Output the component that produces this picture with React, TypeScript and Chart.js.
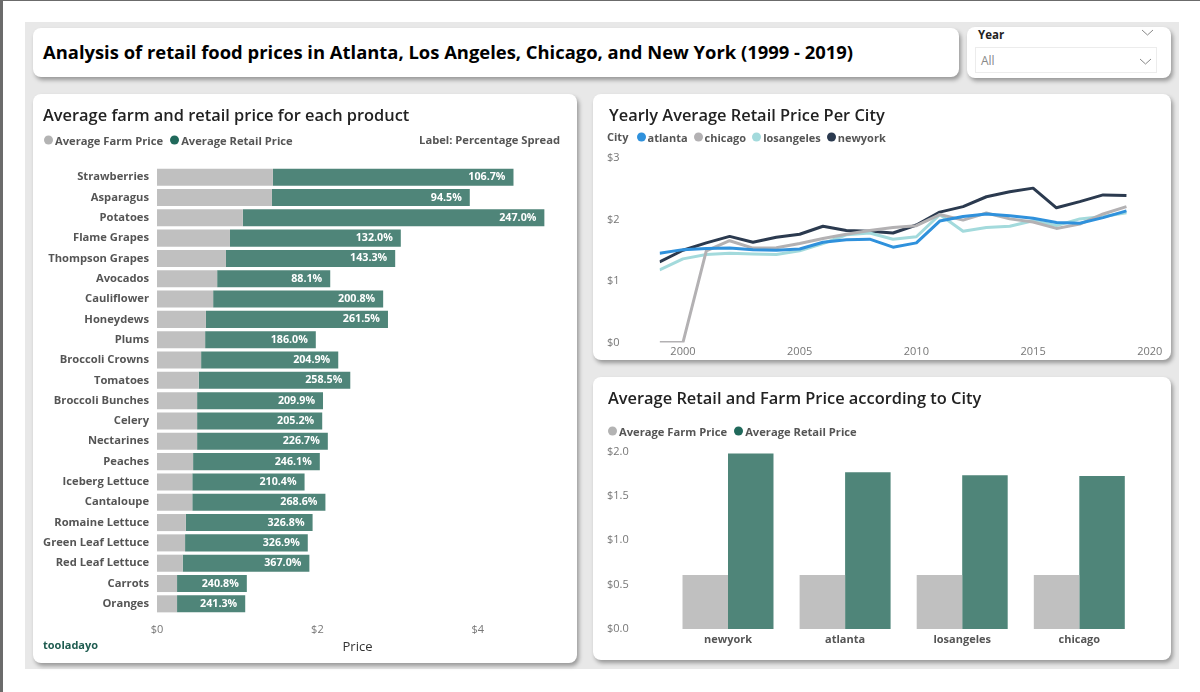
import React, { useEffect, useRef } from 'react';
import Chart from 'chart.js/auto';

const FONT = "'Open Sans', sans-serif";

const products = ['Strawberries', 'Asparagus', 'Potatoes', 'Flame Grapes', 'Thompson Grapes', 'Avocados', 'Cauliflower', 'Honeydews', 'Plums', 'Broccoli Crowns', 'Tomatoes', 'Broccoli Bunches', 'Celery', 'Nectarines', 'Peaches', 'Iceberg Lettuce', 'Cantaloupe', 'Romaine Lettuce', 'Green Leaf Lettuce', 'Red Leaf Lettuce', 'Carrots', 'Oranges'];
const productFarm = [1.445, 1.433, 1.07, 0.91, 0.86, 0.75, 0.7, 0.61, 0.6, 0.55, 0.52, 0.5, 0.5, 0.5, 0.45, 0.44, 0.44, 0.36, 0.35, 0.32, 0.25, 0.25];
const productRetail = [3.0, 2.467, 3.76, 2.13, 2.11, 1.41, 2.12, 2.27, 1.38, 1.71, 1.89, 1.57, 1.56, 1.63, 1.58, 1.4, 1.66, 1.58, 1.53, 1.58, 0.87, 0.85];
const productSpread = ['106.7%', '94.5%', '247.0%', '132.0%', '143.3%', '88.1%', '200.8%', '261.5%', '186.0%', '204.9%', '258.5%', '209.9%', '205.2%', '226.7%', '246.1%', '210.4%', '268.6%', '326.8%', '326.9%', '367.0%', '240.8%', '241.3%'];
const priceTicks = [0, 2, 4];

const years = [1999, 2000, 2001, 2002, 2003, 2004, 2005, 2006, 2007, 2008, 2009, 2010, 2011, 2012, 2013, 2014, 2015, 2016, 2017, 2018, 2019];
const atlanta = [1.45, 1.51, 1.53, 1.535, 1.51, 1.5, 1.52, 1.63, 1.67, 1.68, 1.55, 1.62, 1.975, 2.05, 2.09, 2.06, 2.02, 1.95, 1.94, 2.03, 2.14];
const chicago = [0, 0, 1.49, 1.655, 1.535, 1.54, 1.61, 1.69, 1.76, 1.82, 1.87, 1.9, 2.08, 1.99, 2.105, 2.01, 1.96, 1.855, 1.925, 2.09, 2.21];
const losangeles = [1.18, 1.36, 1.43, 1.45, 1.44, 1.43, 1.49, 1.61, 1.75, 1.78, 1.68, 1.72, 2.08, 1.81, 1.87, 1.89, 1.98, 1.9, 2.01, 2.05, 2.11];
const newyork = [1.31, 1.5, 1.62, 1.725, 1.63, 1.71, 1.76, 1.89, 1.82, 1.81, 1.78, 1.91, 2.12, 2.21, 2.37, 2.45, 2.51, 2.19, 2.29, 2.4, 2.39];
const yearTicks = [2000, 2005, 2010, 2015, 2020];

const cities = ['newyork', 'atlanta', 'losangeles', 'chicago'];
const cityFarm = [0.61, 0.61, 0.61, 0.61];
const cityRetail = [1.98, 1.768, 1.733, 1.726];

const FARM_BAR = '#c0c0c0';
const RETAIL_BAR = '#4f8579';
const FARM_DOT = '#b3b3b3';
const RETAIL_DOT = '#20695b';
const CITY_COLORS = { atlanta: '#2f91dc', chicago: '#b3b1b3', losangeles: '#a3dadc', newyork: '#2b3a4f' };

function useChart(config: any) {
    const ref = useRef<HTMLCanvasElement>(null);
    useEffect(() => {
        if (!ref.current) return;
        const chart = new Chart(ref.current, config);
        return () => chart.destroy();
    }, []);
    return ref;
}

const spreadLabels = {
    id: 'spreadLabels',
    afterDatasetsDraw(chart: any) {
        const { ctx } = chart;
        ctx.save();
        ctx.font = `700 10.7px ${FONT}`;
        ctx.fillStyle = '#ffffff';
        ctx.textAlign = 'right';
        ctx.textBaseline = 'middle';
        chart.getDatasetMeta(1).data.forEach((bar: any, i: number) => {
            ctx.fillText(productSpread[i], bar.x - 8, bar.y);
        });
        ctx.restore();
    },
};

function ProductChart() {
    const ref = useChart({
        type: 'bar',
        data: {
            labels: products,
            datasets: [
                { label: 'Average Farm Price', data: productFarm, backgroundColor: FARM_BAR },
                { label: 'Average Retail Price', data: productRetail, backgroundColor: RETAIL_BAR },
            ],
        },
        plugins: [spreadLabels],
        options: {
            indexAxis: 'y',
            responsive: false,
            animation: false,
            layout: { padding: { top: 73, right: 19, left: 0, bottom: 0 } },
            plugins: { legend: { display: false }, tooltip: { enabled: false } },
            datasets: { bar: { categoryPercentage: 1, barPercentage: 0.84 } },
            scales: {
                x: {
                    stacked: true,
                    min: 0,
                    max: 5,
                    afterBuildTicks: (axis: any) => { axis.ticks = priceTicks.map((value) => ({ value })); },
                    afterFit: (axis: any) => { axis.height = 49; },
                    grid: { display: false, drawTicks: false },
                    border: { display: false },
                    ticks: { padding: 9, maxRotation: 0, color: '#777777', font: { family: FONT, size: 11 }, callback: (v: any) => `$${v}` },
                    title: { display: true, text: 'Price', color: '#333333', font: { family: FONT, size: 13 }, padding: { top: 2, bottom: 8 } },
                },
                y: {
                    stacked: true,
                    afterFit: (axis: any) => { axis.width = 124; },
                    grid: { display: false, drawTicks: false },
                    border: { display: false },
                    ticks: { padding: 8, autoSkip: false, color: '#555555', font: { family: FONT, size: 11.2, weight: '700' } },
                },
            },
        },
    });
    return <canvas ref={ref} width={544} height={569} style={{ position: 'absolute', left: 33, top: 94 }} />;
}

function YearlyChart() {
    const series = { atlanta, chicago, losangeles, newyork };
    const ref = useChart({
        type: 'line',
        data: {
            datasets: Object.entries(series).map(([city, values]) => ({
                label: city,
                data: values.map((y, i) => ({ x: years[i], y })),
                borderColor: CITY_COLORS[city as keyof typeof CITY_COLORS],
                borderWidth: 3,
                pointRadius: 0,
                tension: 0,
                borderJoinStyle: 'round',
            })),
        },
        options: {
            responsive: false,
            animation: false,
            layout: { padding: { top: 64, right: 21.2, left: 14, bottom: 0 } },
            plugins: { legend: { display: false }, tooltip: { enabled: false } },
            scales: {
                x: {
                    type: 'linear',
                    min: 1999,
                    max: 2020,
                    afterBuildTicks: (axis: any) => { axis.ticks = yearTicks.map((value) => ({ value })); },
                    afterFit: (axis: any) => { axis.height = 17.5; },
                    grid: { display: false, drawTicks: false },
                    border: { display: false },
                    ticks: { padding: 3, maxRotation: 0, color: '#777777', font: { family: FONT, size: 11 }, callback: (v: any) => String(v) },
                },
                y: {
                    min: 0,
                    max: 3,
                    afterFit: (axis: any) => { axis.width = 52.6; },
                    grid: { display: false, drawTicks: false },
                    border: { display: false },
                    ticks: { stepSize: 1, crossAlign: 'far', color: '#777777', font: { family: FONT, size: 11 }, callback: (v: any) => `$${v}` },
                },
            },
        },
    });
    return <canvas ref={ref} width={578} height={266} style={{ position: 'absolute', left: 593, top: 94 }} />;
}

function CityChart() {
    const ref = useChart({
        type: 'bar',
        data: {
            labels: cities,
            datasets: [
                { label: 'Average Farm Price', data: cityFarm, backgroundColor: FARM_BAR },
                { label: 'Average Retail Price', data: cityRetail, backgroundColor: RETAIL_BAR },
            ],
        },
        options: {
            responsive: false,
            animation: false,
            layout: { padding: { top: 74.7, right: 33.15, left: 14, bottom: 0 } },
            plugins: { legend: { display: false }, tooltip: { enabled: false } },
            datasets: { bar: { categoryPercentage: 0.777, barPercentage: 1 } },
            scales: {
                x: {
                    afterFit: (axis: any) => { axis.height = 31; },
                    grid: { display: false, drawTicks: false },
                    border: { display: false },
                    ticks: { padding: 4, color: '#555555', font: { family: FONT, size: 11, weight: '700' } },
                },
                y: {
                    min: 0,
                    max: 2,
                    afterFit: (axis: any) => { axis.width = 62.45; },
                    grid: { display: false, drawTicks: false },
                    border: { display: false },
                    ticks: { stepSize: 0.5, crossAlign: 'far', color: '#777777', font: { family: FONT, size: 11 }, callback: (v: any) => `$${Number(v).toFixed(1)}` },
                },
            },
        },
    });
    return <canvas ref={ref} width={578} height={283} style={{ position: 'absolute', left: 593, top: 377 }} />;
}

function Card({ left, top, width, height }: { left: number; top: number; width: number; height: number }) {
    return <div style={{ position: 'absolute', left, top, width, height, background: '#fff', borderRadius: 8, boxShadow: '2px 3px 4px rgba(0,0,0,0.35)' }} />;
}

function Text({ left, top, right, size, weight, color, children }: any) {
    return (
        <div style={{ position: 'absolute', left, right, top, transform: 'translateY(-50%)', fontFamily: FONT, fontSize: size, fontWeight: weight, color, whiteSpace: 'nowrap', lineHeight: 1.2 }}>
            {children}
        </div>
    );
}

function LegendItems({ left, top, items, gap, size }: any) {
    return (
        <div style={{ position: 'absolute', left, top, transform: 'translateY(-50%)', display: 'flex', alignItems: 'center', fontFamily: FONT, fontSize: size, fontWeight: 700, color: '#555555', whiteSpace: 'nowrap' }}>
            {items.map(([label, color]: string[]) => (
                <span key={label} style={{ display: 'flex', alignItems: 'center', marginRight: gap }}>
                    <span style={{ width: 9, height: 9, borderRadius: '50%', background: color, marginRight: 2 }} />
                    {label}
                </span>
            ))}
        </div>
    );
}

function Chevron({ left, top }: { left: number; top: number }) {
    return (
        <svg width="13" height="7" style={{ position: 'absolute', left, top }}>
            <polyline points="1,1 6.5,6 12,1" fill="none" stroke="#888888" strokeWidth="1" />
        </svg>
    );
}

export default function App() {
    const priceLegend = [['Average Farm Price', FARM_DOT], ['Average Retail Price', RETAIL_DOT]];
    return (
        <div style={{ position: 'absolute', left: 0, top: 0, width: 1200, height: 692, overflow: 'hidden', background: '#fff' }}>
            <div style={{ position: 'absolute', left: 0, top: 0, width: 1200, height: 1, background: '#6b6b6b' }} />
            <div style={{ position: 'absolute', left: 0, top: 0, width: 3, height: 692, background: '#6b6b6b' }} />
            <div style={{ position: 'absolute', left: 25, top: 22, width: 1154, height: 647, background: '#e8e8e8' }} />

            <Card left={33} top={28} width={926} height={49} />
            <Card left={967} top={27} width={204} height={51} />
            <Card left={33} top={94} width={544} height={569} />
            <Card left={593} top={94} width={578} height={266} />
            <Card left={593} top={377} width={578} height={283} />

            <ProductChart />
            <YearlyChart />
            <CityChart />

            <Text left={43} top={52} size={18.4} weight={700} color="#000000">
                Analysis of retail food prices in Atlanta, Los Angeles, Chicago, and New York (1999 - 2019)
            </Text>

            <Text left={978} top={34.5} size={11.5} weight={700} color="#222222">Year</Text>
            <Chevron left={1141} top={29} />
            <div style={{ position: 'absolute', left: 975, top: 47, width: 180, height: 24, border: '1px solid #ececec' }} />
            <Text left={981} top={61} size={12} weight={400} color="#888888">All</Text>
            <Chevron left={1139} top={58} />

            <Text left={43} top={115} size={16.4} weight={600} color="#222222">Average farm and retail price for each product</Text>
            <LegendItems left={44} top={140} items={priceLegend} gap={7} size={11.2} />
            <Text right={640} top={140} size={11.2} weight={700} color="#555555">Label: Percentage Spread</Text>
            <Text left={43} top={645} size={11} weight={700} color="#1f5c50">tooladayo</Text>

            <Text left={609} top={115} size={16.4} weight={600} color="#222222">Yearly Average Retail Price Per City</Text>
            <Text left={607} top={137} size={11} weight={700} color="#555555">City</Text>
            <LegendItems left={636.5} top={137} gap={6} size={11} items={Object.keys(CITY_COLORS).map((c) => [c, CITY_COLORS[c as keyof typeof CITY_COLORS]])} />

            <Text left={608} top={398} size={16.4} weight={600} color="#222222">Average Retail and Farm Price according to City</Text>
            <LegendItems left={608} top={430.5} items={priceLegend} gap={7} size={11.2} />
        </div>
    );
}
